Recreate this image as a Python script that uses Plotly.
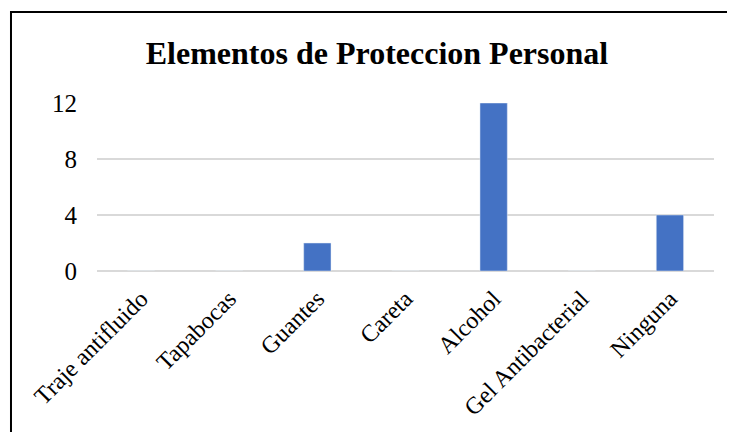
import plotly.graph_objects as go

# datos de la grafica
categorias = ["Traje antifluido", "Tapabocas", "Guantes", "Careta",
              "Alcohol", "Gel Antibacterial", "Ninguna"]
valores = [0, 0, 2, 0, 12, 0, 4]
ticks_y = [0, 4, 8, 12]

fuente = "Liberation Serif, Times New Roman, serif"

fig = go.Figure(data=go.Bar(x=categorias, y=valores, marker_color="#4472C4",
                            width=0.31))

# la pagina deja 8px de margen al cuerpo, por eso los margenes van corridos
fig.update_layout(
    width=735, height=432,
    margin=dict(l=89, r=29, t=95, b=169, autoexpand=False),
    paper_bgcolor="white", plot_bgcolor="white",
    title=dict(text="<b>Elementos de Proteccion Personal</b>",
               x=0.502, xref="container", xanchor="center",
               y=0.896, yref="container", yanchor="middle",
               font=dict(family=fuente, size=32, color="black")),
    font=dict(family=fuente, size=25, color="black"),
    showlegend=False,
)
fig.update_xaxes(tickangle=-45, tickfont=dict(size=24), showgrid=False,
                 showline=False, ticks="", ticklabelstandoff=8)
fig.update_yaxes(range=[0, 12], tickvals=ticks_y, showgrid=True,
                 gridcolor="#d9d9d9", gridwidth=1.5, zeroline=True,
                 zerolinecolor="#d9d9d9", zerolinewidth=1.5,
                 ticks="", ticklabelstandoff=19)

# borde del grafico (se sale por la derecha y por abajo)
fig.add_shape(type="rect", xref="paper", yref="paper",
              x0=-0.1394, x1=1.2, y0=-1.5, y1=1.5417,
              line=dict(color="black", width=2), layer="above")

fig.write_html("out.html")
